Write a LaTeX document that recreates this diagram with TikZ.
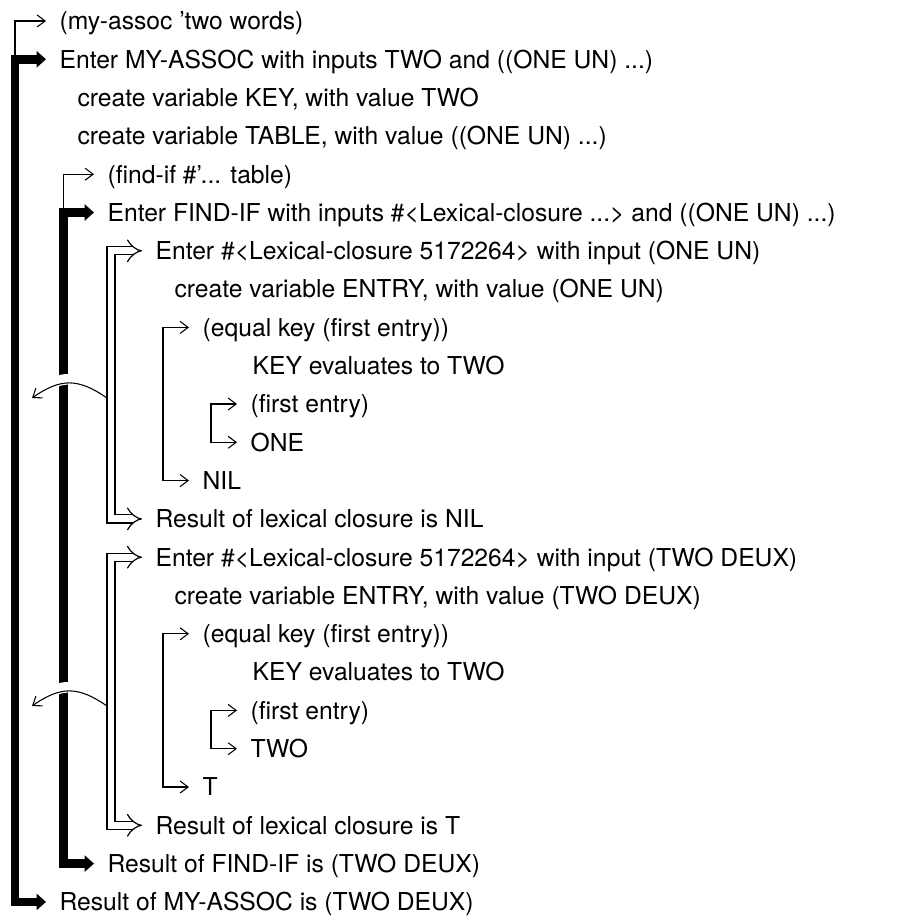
\documentclass[tikz,border=0pt]{standalone}
\usepackage{fontspec}
\setmainfont{TeX Gyre Heros}
\usetikzlibrary{arrows.meta}

\begin{document}
\begin{tikzpicture}[x=0.75pt,y=0.75pt,line join=miter,
  txt/.style={anchor=west,inner xsep=10pt,inner ysep=0pt,text height=13.3pt,
              text depth=0pt,font=\fontsize{18.5}{22}\selectfont},
  flow/.style={line width=0.8pt,-{Straight Barb[length=6pt,width=9pt]}},
  flowboth/.style={line width=0.8pt,
              {Straight Barb[length=6pt,width=9pt]}-{Straight Barb[length=6pt,width=9pt]}},
  call/.style={line width=6.5pt,{Triangle[length=7pt,width=12pt]}-{Triangle[length=7pt,width=12pt]}},
  clos/.style={double,line width=0.9pt,double distance=5.2pt,
              {Implies[length=5.5pt,width=11pt]}-{Implies[length=5.5pt,width=11pt]}},
  back/.style={line width=0.8pt,-{Straight Barb[length=6pt,width=9pt]},
              preaction={draw=white,-,line width=8pt,shorten <=20pt,shorten >=20pt}}]
  \useasboundingbox (0,0) rectangle (898,-917);
  \coordinate (c1) at (15,0);  \coordinate (c2) at (63.5,0);
  \coordinate (c3) at (111,0); \coordinate (c4) at (163,0);
  \coordinate (c5) at (211,0);

  \node[txt] (l1)  at (46,-21)    {(my-assoc 'two words)};
  \node[txt] (l2)  at (46,-59.3)  {Enter MY-ASSOC with inputs TWO and ((ONE UN) ...)};
  \node[txt] (l3)  at (64,-97.6)  {create variable KEY, with value TWO};
  \node[txt] (l4)  at (64,-135.9) {create variable TABLE, with value ((ONE UN) ...)};
  \node[txt] (l5)  at (94,-174.2) {(find-if \#'... table)};
  \node[txt] (l6)  at (94,-212.5) {Enter FIND-IF with inputs \#<Lexical-closure ...> and ((ONE UN) ...)};
  \node[txt] (l7)  at (142,-250.8) {Enter \#<Lexical-closure 5172264> with input (ONE UN)};
  \node[txt] (l8)  at (161,-289.1) {create variable ENTRY, with value (ONE UN)};
  \node[txt] (l9)  at (189,-327.4) {(equal key (first entry))};
  \node[txt] (l10) at (239,-365.7) {KEY evaluates to TWO};
  \node[txt] (l11) at (237,-404)   {(first entry)};
  \node[txt] (l12) at (237,-442.3) {ONE};
  \node[txt] (l13) at (189,-480.6) {NIL};
  \node[txt] (l14) at (142,-518.9) {Result of lexical closure is NIL};
  \node[txt] (l15) at (142,-557.2) {Enter \#<Lexical-closure 5172264> with input (TWO DEUX)};
  \node[txt] (l16) at (161,-595.5) {create variable ENTRY, with value (TWO DEUX)};
  \node[txt] (l17) at (189,-633.8) {(equal key (first entry))};
  \node[txt] (l18) at (239,-672.1) {KEY evaluates to TWO};
  \node[txt] (l19) at (237,-710.4) {(first entry)};
  \node[txt] (l20) at (237,-748.7) {TWO};
  \node[txt] (l21) at (189,-787)   {T};
  \node[txt] (l22) at (142,-825.3) {Result of lexical closure is T};
  \node[txt] (l23) at (94,-863.6)  {Result of FIND-IF is (TWO DEUX)};
  \node[txt] (l24) at (46,-901.9)  {Result of MY-ASSOC is (TWO DEUX)};

  \draw[flow] (l2.west -| c1) |- (l1.west);
  \draw[call] (l2.west) -- (l2.west -| c1) -- (l24.west -| c1) -- (l24.west);
  \draw[flow] (l6.west -| c2) |- (l5.west);
  \draw[call] (l6.west) -- (l6.west -| c2) -- (l23.west -| c2) -- (l23.west);
  \draw[clos] (l7.west) -- (l7.west -| c3) -- (l14.west -| c3) -- (l14.west);
  \draw[clos] (l15.west) -- (l15.west -| c3) -- (l22.west -| c3) -- (l22.west);
  \draw[flowboth] (l9.west) -- (l9.west -| c4) -- (l13.west -| c4) -- (l13.west);
  \draw[flowboth] (l11.west) -- (l11.west -| c5) -- (l12.west -| c5) -- (l12.west);
  \draw[flowboth] (l17.west) -- (l17.west -| c4) -- (l21.west -| c4) -- (l21.west);
  \draw[flowboth] (l19.west) -- (l19.west -| c5) -- (l20.west -| c5) -- (l20.west);

  \coordinate (r1) at (107,-398); \coordinate (e1) at (32,-398);
  \coordinate (r2) at (107,-706); \coordinate (e2) at (32,-706);
  \draw[back] (r1) .. controls (78,-378) and (61,-378) .. (e1);
  \draw[back] (r2) .. controls (78,-686) and (61,-686) .. (e2);
\end{tikzpicture}
\end{document}
